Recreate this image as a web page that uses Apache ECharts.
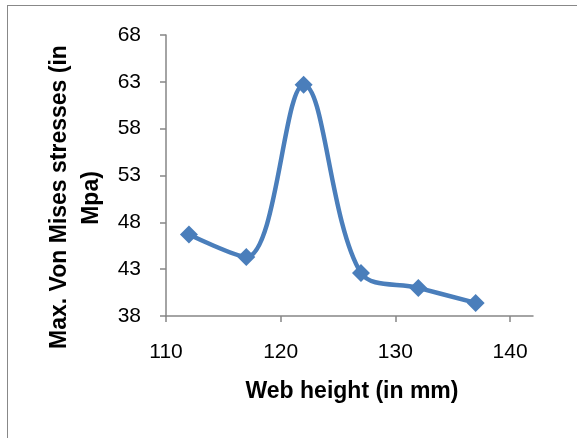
<!DOCTYPE html>
<html>
<head>
<meta charset="utf-8">
<script src="https://cdn.jsdelivr.net/npm/echarts@6/dist/echarts.min.js"></script>
<style>
  html, body { margin: 0; padding: 0; background: #fff; }
  #frame { position: absolute; left: 7px; top: 5px; width: 600px; height: 460px;
           border-left: 1px solid #888; border-top: 1px solid #888; }
  #main { position: absolute; left: 0; top: 0; width: 577px; height: 438px; }
</style>
</head>
<body>
<div id="frame"></div>
<div id="main"></div>
<script>
window.onload = function () {
    var myChart = echarts.init(document.getElementById('main'));

    // data
    var webHeight = [112, 117, 122, 127, 132, 137];
    var stress = [46.7, 44.3, 62.7, 42.6, 41.0, 39.4];
    var xTicks = [110, 120, 130, 140];

    var points = webHeight.map(function (h, i) { return [h, stress[i]]; });
    var txt = { color: '#000', fontFamily: 'Liberation Sans', fontSize: 21 };
    var titleFont = 'bold 23px "Liberation Sans"';

    var option = {
        animation: false,
        grid: { left: 166, top: 35, right: 44, bottom: 122 },
        xAxis: {
            type: 'value', min: 110, max: 142, interval: 10,
            axisLine: { lineStyle: { color: '#868686', width: 1.5 } },
            axisTick: { customValues: xTicks, length: 6, lineStyle: { color: '#868686', width: 1.5 } },
            axisLabel: Object.assign({ customValues: xTicks, margin: 26 }, txt),
            splitLine: { show: false }
        },
        yAxis: {
            type: 'value', min: 38, max: 68, interval: 5,
            axisLine: { show: true, lineStyle: { color: '#868686', width: 1.5 } },
            axisTick: { show: true, length: 6, lineStyle: { color: '#868686', width: 1.5 } },
            axisLabel: Object.assign({ margin: 25 }, txt),
            splitLine: { show: false }
        },
        graphic: [
            { type: 'text', x: 60, y: 197, rotation: Math.PI / 2,
              style: { text: 'Max. Von Mises stresses (in', fill: '#000',
                       font: titleFont, align: 'center', verticalAlign: 'middle' } },
            { type: 'text', x: 92, y: 198, rotation: Math.PI / 2,
              style: { text: 'Mpa)', fill: '#000',
                       font: titleFont, align: 'center', verticalAlign: 'middle' } },
            { type: 'text', x: 352, y: 392,
              style: { text: 'Web height (in mm)', fill: '#000',
                       font: titleFont, align: 'center', verticalAlign: 'middle' } }
        ],
        series: [
            {
                type: 'line',
                data: points,
                smooth: 0.35,
                symbol: 'diamond',
                symbolSize: 18,
                lineStyle: { color: '#4a7ebb', width: 4.5 },
                itemStyle: { color: '#4a7ebb' }
            }
        ]
    };

    myChart.setOption(option);
};
</script>
</body>
</html>
